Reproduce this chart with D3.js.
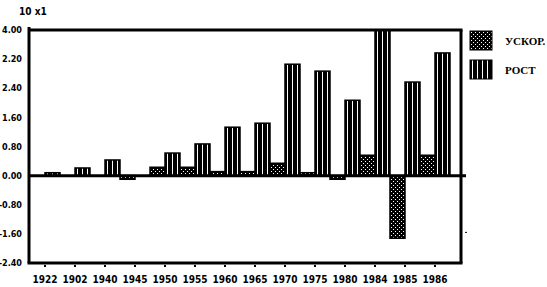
<!DOCTYPE html>
<html>
<head>
<meta charset="utf-8">
<script src="https://cdn.jsdelivr.net/npm/d3@7"></script>
<style>
  body { margin: 0; background: #fff; }
  text { font-family: "DejaVu Sans Condensed", "DejaVu Sans", sans-serif; font-weight: bold; fill: #000; }
</style>
</head>
<body>
<div id="chart"></div>
<script>
// data
var years = ["1922", "1902", "1940", "1945", "1950", "1955", "1960", "1965", "1970", "1975", "1980", "1984", "1985", "1986"];
var uskor = [0, 0, 0, -0.1, 0.23, 0.23, 0.11, 0.11, 0.34, 0.08, -0.1, 0.56, -1.72, 0.56];
var rost = [0.08, 0.21, 0.43, 0, 0.62, 0.87, 1.33, 1.44, 3.06, 2.87, 2.07, 4.00, 2.57, 3.37];
var yTicks = [4.0, 3.2, 2.4, 1.6, 0.8, 0, -0.8, -1.6, -2.4];
var yLabels = ["4.00", "2.20", "2.40", "1.60", "0.80", "0.00", "-0.80", "-1.60", "-2.40"];
var seriesNames = ["УСКОР.", "РОСТ"];

// note: "top" is reserved on window, so the plot edges get their own names
var width = 547, height = 287;
var plotLeft = 29, plotRight = 461, plotTop = 30, plotBottom = 263;

var svg = d3.select("#chart")
  .append("svg")
    .attr("width", width)
    .attr("height", height);

// fill patterns
var defs = svg.append("defs");
var dots = defs.append("pattern")
  .attr("id", "dots")
  .attr("patternUnits", "userSpaceOnUse")
  .attr("width", 4).attr("height", 4);
dots.append("rect").attr("width", 4).attr("height", 4).attr("fill", "#000");
dots.append("rect").attr("x", 1).attr("y", 1).attr("width", 1).attr("height", 1).attr("fill", "#fff");
dots.append("rect").attr("x", 3).attr("y", 3).attr("width", 1).attr("height", 1).attr("fill", "#fff");

var stripes = defs.append("pattern")
  .attr("id", "stripes")
  .attr("patternUnits", "userSpaceOnUse")
  .attr("width", 5).attr("height", 8);
stripes.append("rect").attr("width", 5).attr("height", 8).attr("fill", "#000");
stripes.append("rect").attr("x", 2).attr("y", 0).attr("width", 1).attr("height", 8).attr("fill", "#fff");

var x = d3.scaleBand()
  .domain(years)
  .range([30, 450]);

var xSub = d3.scaleBand()
  .domain(["uskor", "rost"])
  .range([0, x.bandwidth()]);

var y = d3.scaleLinear()
  .domain([-2.4, 4.0])
  .range([plotBottom, plotTop]);

var fills = { uskor: "url(#dots)", rost: "url(#stripes)" };
var bars = [];
years.forEach(function(yr, i) {
  bars.push({ year: yr, key: "uskor", value: uskor[i] });
  bars.push({ year: yr, key: "rost", value: rost[i] });
});

svg.selectAll(".bar")
  .data(bars.filter(function(d) { return d.value != 0; }))
  .enter()
  .append("rect")
    .attr("class", "bar")
    .attr("x", function(d) { return x(d.year) + xSub(d.key); })
    .attr("width", xSub.bandwidth())
    .attr("y", function(d) { return y(Math.max(0, d.value)); })
    .attr("height", function(d) { return Math.abs(y(d.value) - y(0)); })
    .attr("fill", function(d) { return fills[d.key]; })
    .attr("stroke", "#000")
    .attr("stroke-width", 1.5);

// frame
svg.append("line").attr("x1", plotLeft).attr("x2", plotRight + 1.5).attr("y1", plotTop).attr("y2", plotTop)
  .attr("stroke", "#000").attr("stroke-width", 3);
svg.append("line").attr("x1", plotRight).attr("x2", plotRight).attr("y1", plotTop).attr("y2", plotBottom)
  .attr("stroke", "#000").attr("stroke-width", 3);
svg.append("line").attr("x1", plotLeft - 1.5).attr("x2", plotRight + 1.5).attr("y1", plotBottom).attr("y2", plotBottom)
  .attr("stroke", "#000").attr("stroke-width", 3);
svg.append("line").attr("x1", plotLeft).attr("x2", plotLeft).attr("y1", plotTop - 3).attr("y2", plotBottom)
  .attr("stroke", "#000").attr("stroke-width", 3);
// zero line
svg.append("line").attr("x1", plotLeft).attr("x2", plotRight + 5).attr("y1", y(0)).attr("y2", y(0))
  .attr("stroke", "#000").attr("stroke-width", 3);
// stray mark on the right
svg.append("line").attr("x1", 465).attr("x2", 467).attr("y1", y(-1.6) - 1.5).attr("y2", y(-1.6) - 1.5)
  .attr("stroke", "#000").attr("stroke-width", 1);

// y labels
svg.selectAll(".ylab")
  .data(yTicks)
  .enter()
  .append("text")
    .attr("class", "ylab")
    .attr("x", 22)
    .attr("y", function(d) { return y(d); })
    .attr("dy", "0.35em")
    .attr("text-anchor", "end")
    .style("font-size", "9px")
    .text(function(d, i) { return yLabels[i]; });

// x ticks and labels
svg.selectAll(".xtick")
  .data(years)
  .enter()
  .append("rect")
    .attr("class", "xtick")
    .attr("x", function(d) { return x(d) + x.bandwidth() / 2 - 1; })
    .attr("y", plotBottom + 2)
    .attr("width", 2)
    .attr("height", 2)
    .attr("fill", "#000");

svg.selectAll(".xlab")
  .data(years)
  .enter()
  .append("text")
    .attr("class", "xlab")
    .attr("x", function(d) { return x(d) + x.bandwidth() / 2; })
    .attr("y", 283)
    .attr("text-anchor", "middle")
    .style("font-size", "10px")
    .text(function(d) { return d; });

// unit label
svg.append("text")
  .attr("x", 19)
  .attr("y", 15)
  .style("font-size", "10px")
  .text("10 x1");

// legend
var legend = svg.selectAll(".legend")
  .data(["uskor", "rost"])
  .enter()
  .append("g")
    .attr("class", "legend")
    .attr("transform", function(d, i) { return "translate(470," + (31 + i * 29) + ")"; });
legend.append("rect")
  .attr("width", 22)
  .attr("height", 19)
  .attr("fill", function(d) { return fills[d]; })
  .attr("stroke", "#000");
legend.append("text")
  .attr("x", 35)
  .attr("y", 14)
  .style("font-family", "'Liberation Serif', serif")
  .style("font-size", "11px")
  .text(function(d, i) { return seriesNames[i]; });
</script>
</body>
</html>
